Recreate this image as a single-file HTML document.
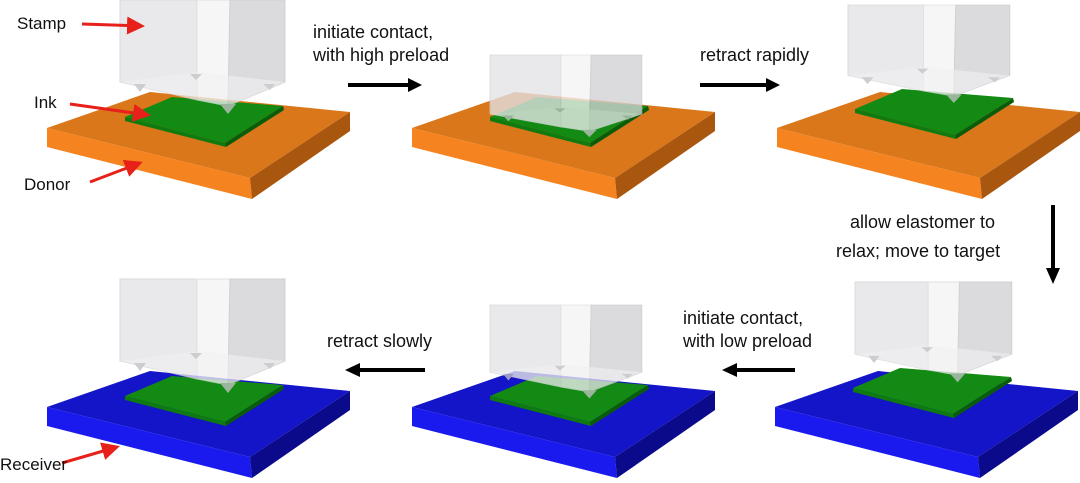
<!DOCTYPE html>
<html><head><meta charset="utf-8"><style>
html,body{margin:0;padding:0;background:#fff;}
svg{display:block;font-family:"Liberation Sans",sans-serif;}
</style></head><body>
<svg width="1080" height="483" viewBox="0 0 1080 483" xmlns="http://www.w3.org/2000/svg">
<defs>
<g id="oplate">
<polygon points="47,128 150,92 350,112 250,178" fill="#d9771a"/>
<polygon points="47,128 250,178 252,199 47,147" fill="#f5831f"/>
<polygon points="250,178 350,112 350,131 252,199" fill="#a9560f"/>
</g>
<g id="bplate">
<polygon points="47,128 150,92 350,112 250,178" fill="#1414c8"/>
<polygon points="47,128 250,178 252,199 47,147" fill="#1a1aee"/>
<polygon points="250,178 350,112 350,131 252,199" fill="#0a0a8a"/>
</g>
<g id="ink">
<polygon points="125,117 172,97 283,106 225,143" fill="#138a13"/>
<polygon points="125,117 225,143 226,147 125,121" fill="#0f7a0f"/>
<polygon points="225,143 283,106 284,110 226,147" fill="#0a5c0a"/>
</g>
<g id="stamp" opacity="0.78">
<polygon points="0,0 77,0 77,100 0,82" fill="#e3e3e7" stroke="#d0d0d4" stroke-width="1"/>
<polygon points="77,0 110,0 108,106 77,100" fill="#f4f4f6" stroke="#d8d8da" stroke-width="1"/>
<polygon points="110,0 165,0 165,82 108,106" fill="#d2d2d6" stroke="#c4c4c8" stroke-width="1"/>
<polygon points="0,82 77,72 165,82 108,106 77,100" fill="#ececef" opacity="0.6"/>
<polygon points="14,84 26,84 20,92" fill="#c0c0c4"/>
<polygon points="70,74 82,74 76,80" fill="#c0c0c4"/>
<polygon points="100,104 116,104 108,114" fill="#c0c0c4"/>
<polygon points="143,84 155,84 150,90" fill="#c0c0c4"/>
</g>
<marker id="ra" markerWidth="6" markerHeight="6" refX="5" refY="3" orient="auto" markerUnits="strokeWidth"><path d="M0,0 L6,3 L0,6z" fill="#e8201a"/></marker>
</defs>

<use href="#oplate"/>
<use href="#ink"/>
<use href="#stamp" transform="translate(120,0)"/>

<g transform="translate(365,0)">
<use href="#oplate"/>
<use href="#ink"/>
<use href="#stamp" transform="translate(125,55) scale(0.92,0.72)"/>
</g>

<g transform="translate(730,0)">
<use href="#oplate"/>
<use href="#ink" transform="translate(0,-8)"/>
<use href="#stamp" transform="translate(118,5) scale(0.98,0.86)"/>
</g>

<g transform="translate(728,279)">
<use href="#bplate"/>
<use href="#ink" transform="translate(0,-8)"/>
<use href="#stamp" transform="translate(127,3) scale(0.95,0.88)"/>
</g>

<g transform="translate(365,279)">
<use href="#bplate"/>
<use href="#ink"/>
<use href="#stamp" transform="translate(125,26) scale(0.92,0.82)"/>
</g>

<g transform="translate(0,279)">
<use href="#bplate"/>
<use href="#ink"/>
<use href="#stamp" transform="translate(120,0)"/>
</g>

<g stroke="#000" stroke-width="4" fill="none">
<line x1="348" y1="85" x2="410" y2="85"/>
<line x1="700" y1="85" x2="768" y2="85"/>
<line x1="1053" y1="205" x2="1053" y2="270"/>
<line x1="795" y1="370" x2="735" y2="370"/>
<line x1="425" y1="370" x2="358" y2="370"/>
</g>
<g fill="#000">
<polygon points="408,78 422,85 408,92"/>
<polygon points="766,78 780,85 766,92"/>
<polygon points="1046,268 1053,284 1060,268"/>
<polygon points="737,363 722,370 737,377"/>
<polygon points="360,363 345,370 360,377"/>
</g>

<g stroke="#e8201a" stroke-width="3" fill="none" marker-end="url(#ra)">
<line x1="82" y1="24" x2="142" y2="26"/>
<line x1="70" y1="104" x2="148" y2="115"/>
<line x1="90" y1="182" x2="140" y2="163"/>
<line x1="62" y1="463" x2="117" y2="447"/>
</g>

<g font-size="17" fill="#111">
<text x="17" y="29">Stamp</text>
<text x="34" y="108">Ink</text>
<text x="24" y="190">Donor</text>
<text x="0" y="470">Receiver</text>
</g>
<g font-size="18" fill="#111">
<text x="313" y="38">initiate contact,</text>
<text x="313" y="61">with high preload</text>
<text x="700" y="61">retract rapidly</text>
<text x="850" y="228">allow elastomer to</text>
<text x="836" y="257">relax; move to target</text>
<text x="683" y="324">initiate contact,</text>
<text x="683" y="347">with low preload</text>
<text x="327" y="347">retract slowly</text>
</g>
</svg>
</body></html>
